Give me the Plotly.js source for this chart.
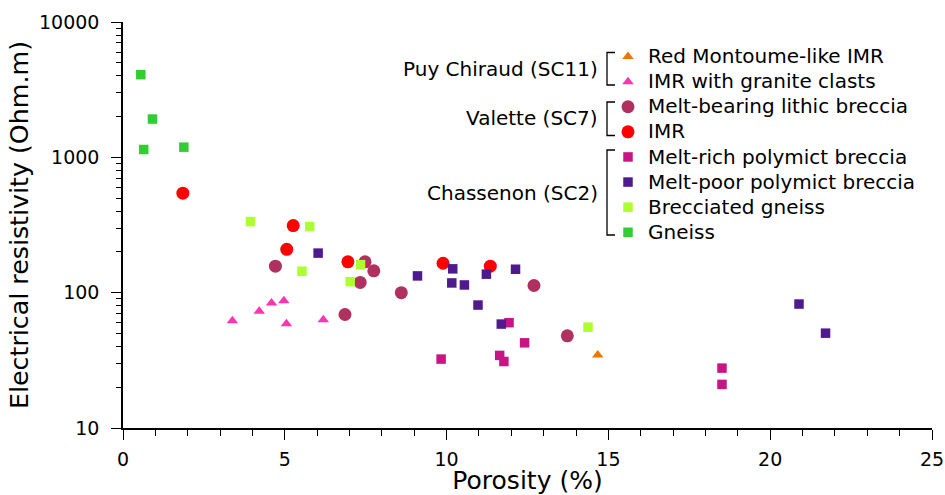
<!DOCTYPE html>
<html>
<head>
<meta charset="utf-8">
<script src="https://cdn.plot.ly/plotly-3.0.1.min.js"></script>
<style>html,body{margin:0;padding:0;background:#fff;}#chart{width:945px;height:495px;}</style>
</head>
<body>
<div id="chart"></div>
<script>
// ---- data ----
const seriesNames = ["Red Montoume-like IMR", "IMR with granite clasts", "Melt-bearing lithic breccia", "IMR",
  "Melt-rich polymict breccia", "Melt-poor polymict breccia", "Brecciated gneiss", "Gneiss"];
const groupLabels = ["Puy Chiraud (SC11)", "Valette (SC7)", "Chassenon (SC2)"];

const redMontX = [14.67];
const redMontY = [34.7];
const graniteX = [3.38, 4.21, 4.59, 4.97, 5.05, 6.19];
const graniteY = [62, 73, 84, 87, 59, 63];
const meltBearingX = [4.71, 7.48, 7.75, 7.33, 8.60, 12.70, 6.86, 13.73];
const meltBearingY = [157, 169, 145, 119, 100, 113, 69, 48];
const imrX = [1.85, 5.26, 5.06, 6.95, 9.89, 11.35];
const imrY = [543, 313, 209, 169, 165, 157];
const meltRichX = [11.93, 12.41, 9.83, 11.64, 11.77, 18.51, 18.51];
const meltRichY = [60, 42.6, 32.3, 34.4, 31.0, 27.7, 21.0];
const meltPoorX = [6.03, 9.10, 10.19, 10.16, 10.55, 11.23, 12.13, 10.97, 11.69, 20.89, 21.71];
const meltPoorY = [196, 133, 150, 118, 114, 137, 149, 81, 58.6, 82.4, 50.2];
const brecGneissX = [3.94, 5.77, 5.53, 7.34, 7.02, 14.37];
const brecGneissY = [335, 308, 144, 161, 120.5, 55.6];
const gneissX = [0.55, 0.91, 0.64, 1.88];
const gneissY = [4080, 1918, 1143, 1189];

// ---- styling ----
const W = 945, H = 495;
const M = {l: 123, r: 13, t: 22, b: 67};
const pw = W - M.l - M.r, ph = H - M.t - M.b;
const px2x = p => (p - M.l) / pw;
const px2y = p => 1 - (p - M.t) / ph;
const FONT = "DejaVu Sans";

function tr(name, x, y, symbol, color, size) {
  return {
    type: "scatter", mode: "markers", x: x, y: y,
    name: "<span style='font-size:20px'>" + name + "</span>",
    marker: {symbol: symbol, color: color, size: size, line: {width: 0}},
    hoverinfo: "x+y"
  };
}

const data = [
  tr(seriesNames[0], redMontX, redMontY, "triangle-up", "#ee7600", 10),
  tr(seriesNames[1], graniteX, graniteY, "triangle-up", "#ff34b3", 10),
  tr(seriesNames[2], meltBearingX, meltBearingY, "circle", "#b03060", 13),
  tr(seriesNames[3], imrX, imrY, "circle", "#ff0000", 13),
  tr(seriesNames[4], meltRichX, meltRichY, "square", "#c71585", 9.5),
  tr(seriesNames[5], meltPoorX, meltPoorY, "square", "#4f1a8c", 9.5),
  tr(seriesNames[6], brecGneissX, brecGneissY, "square", "#adff2f", 9.5),
  tr(seriesNames[7], gneissX, gneissY, "square", "#32cd32", 9.5)
];

// group labels and brackets
const groups = [
  {label: groupLabels[0], cy: 68.5, top: 52.5, bot: 85},
  {label: groupLabels[1], cy: 118.5, top: 102, bot: 135.5},
  {label: groupLabels[2], cy: 193, top: 150, bot: 235}
];
const annotations = groups.map(g => ({
  xref: "paper", yref: "paper", x: px2x(600), y: px2y(g.cy),
  xanchor: "right", yanchor: "middle", showarrow: false,
  text: g.label, font: {family: FONT, size: 20, color: "#000"}
}));
const shapes = groups.map(g => ({
  type: "path", xref: "paper", yref: "paper",
  path: `M ${px2x(615)},${px2y(g.top)} L ${px2x(607)},${px2y(g.top)} L ${px2x(607)},${px2y(g.bot)} L ${px2x(615)},${px2y(g.bot)}`,
  line: {color: "#000", width: 1.3}
}));

const layout = {
  width: W, height: H,
  margin: M,
  paper_bgcolor: "#fff", plot_bgcolor: "#fff",
  showlegend: true,
  legend: {
    x: px2x(608), xanchor: "left", y: px2y(39), yanchor: "top",
    font: {family: FONT, size: 17, color: "#000"},
    bgcolor: "rgba(0,0,0,0)", borderwidth: 0, tracegroupgap: 0, itemwidth: 30
  },
  xaxis: {
    range: [0, 25], showgrid: false, zeroline: false,
    showline: true, linecolor: "#000", linewidth: 1.5,
    ticks: "outside", ticklen: 10, tickwidth: 1.3, tickcolor: "#000",
    dtick: 5, tick0: 0, ticklabelstandoff: 3,
    minor: {ticks: "outside", ticklen: 6, tickwidth: 1.2, tickcolor: "#000", dtick: 1, showgrid: false},
    tickfont: {family: FONT, size: 19, color: "#000"},
    title: {text: "Porosity (%)", font: {family: FONT, size: 25, color: "#000"}, standoff: 5}
  },
  yaxis: {
    type: "log", range: [1, 4], showgrid: false, zeroline: false,
    showline: true, linecolor: "#000", linewidth: 1.5,
    ticks: "outside", ticklen: 10, tickwidth: 1.3, tickcolor: "#000",
    dtick: 1, tickformat: "d", ticklabelstandoff: 8,
    minor: {ticks: "outside", ticklen: 5, tickwidth: 1.2, tickcolor: "#000", dtick: "D1", showgrid: false},
    tickfont: {family: FONT, size: 19, color: "#000"},
    title: {text: "Electrical resistivity (Ohm.m)", font: {family: FONT, size: 25.3, color: "#000"}, standoff: 3}
  },
  annotations: annotations,
  shapes: shapes
};

Plotly.newPlot("chart", data, layout, {displayModeBar: false, responsive: false});
</script>
</body>
</html>
